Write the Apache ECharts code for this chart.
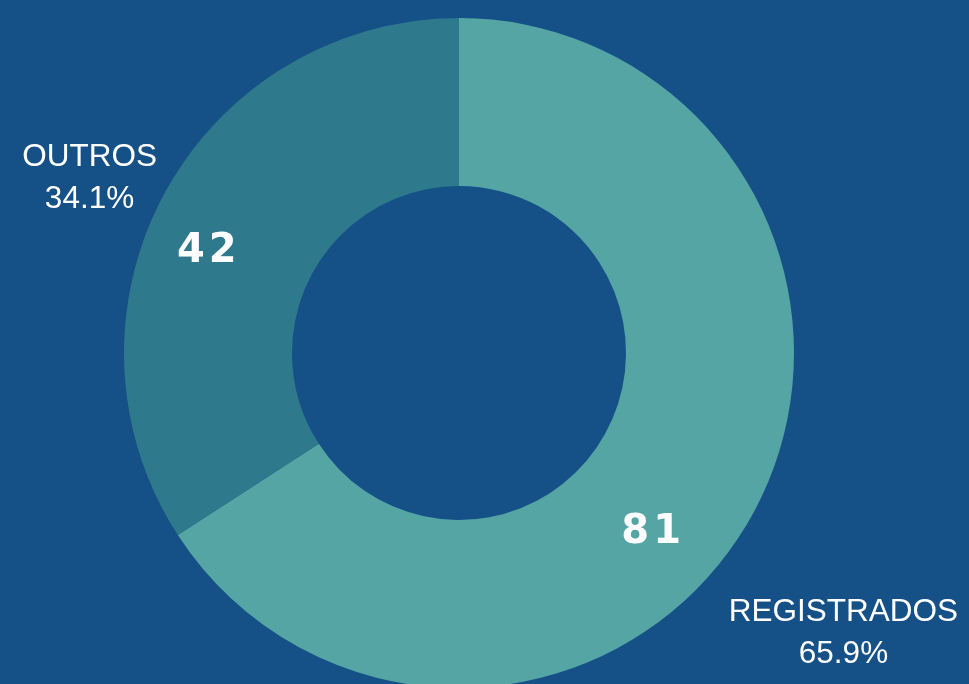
<!DOCTYPE html>
<html>
<head>
<meta charset="utf-8">
<script src="https://cdn.jsdelivr.net/npm/echarts@6/dist/echarts.min.js"></script>
<style>
html,body{margin:0;padding:0;background:#155187;}
#chart{width:969px;height:684px;}
</style>
</head>
<body>
<div id="chart"></div>
<script>
// dados
const categories = ['REGISTRADOS', 'OUTROS'];
const values = [81, 42];
const colors = ['#55a5a5', '#2e7a8c'];

// ajustes finos das etiquetas (dx, dy)
const innerNudge = [[-31, 58], [-29, 20]];
const outerNudge = [[42, 113], [-27, -7]];

const chart = echarts.init(document.getElementById('chart'));

const pieData = categories.map((name, i) => ({
    name: name,
    value: values[i],
    itemStyle: { color: colors[i] }
}));

const option = {
    backgroundColor: '#155187',
    animation: false,
    series: [
        {
            type: 'pie',
            center: [459, 353],
            radius: [167, 335],
            startAngle: 90,
            clockwise: true,
            data: pieData,
            itemStyle: { borderWidth: 0 },
            label: {
                show: true,
                position: 'inside',
                formatter: p => String(p.value).split('').join('\u200A'),
                color: '#ffffff',
                fontFamily: 'DejaVu Sans',
                fontWeight: 'bold',
                fontSize: 40
            },
            labelLayout: p => ({ dx: innerNudge[p.dataIndex][0], dy: innerNudge[p.dataIndex][1] }),
            emphasis: { disabled: true }
        },
        {
            type: 'pie',
            center: [459, 353],
            radius: [167, 335],
            startAngle: 90,
            clockwise: true,
            silent: true,
            percentPrecision: 1,
            data: pieData.map(d => ({ name: d.name, value: d.value, itemStyle: { color: 'transparent' } })),
            label: {
                show: true,
                position: 'outside',
                formatter: '{b}\n{d}%',
                color: '#ffffff',
                fontFamily: 'Liberation Sans',
                fontSize: 31.5,
                lineHeight: 42,
                align: 'center',
                overflow: 'none',
                edgeDistance: 0,
                bleedMargin: 0
            },
            labelLine: { show: false },
            labelLayout: p => ({ dx: outerNudge[p.dataIndex][0], dy: outerNudge[p.dataIndex][1], align: 'center' })
        }
    ]
};

chart.setOption(option);
</script>
</body>
</html>
